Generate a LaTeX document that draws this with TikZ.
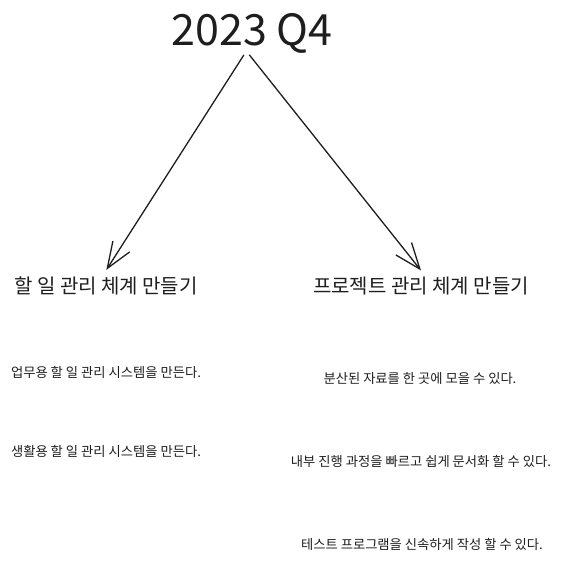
\documentclass[tikz,border=0pt]{standalone}
\usepackage{fontspec}
\setmainfont{Noto Sans CJK KR}
\usepackage{xcolor}
\usetikzlibrary{arrows.meta, positioning}

\definecolor{inkdark}{HTML}{1E1E1E}

\begin{document}
\begin{tikzpicture}[x=1pt, y=-1pt,
    yeartitle/.style={font=\fontsize{43}{50}\selectfont, text=inkdark, inner sep=0pt},
    goalhead/.style={font=\fontsize{20}{24}\selectfont, text=inkdark, inner sep=0pt},
    goalitem/.style={font=\fontsize{13.3}{16}\selectfont, text=inkdark, inner sep=0pt},
    goalarrow/.style={draw=inkdark, line width=1.3pt, -{Straight Barb[length=26pt, width=20pt, line width=1.3pt]}}]

\useasboundingbox (0,0) rectangle (569,570);

% Quarter title
\node[yeartitle] (year) at (252,33) {2023 Q4};

% Goal headings
\node[goalhead] (todo) at (106,286) {할 일 관리 체계 만들기};
\node[goalhead] (project) at (421,286) {프로젝트 관리 체계 만들기};

% Items under each goal
\node[goalitem] (todo1) at (106,372) {업무용 할 일 관리 시스템을 만든다.};
\node[goalitem] (todo2) at (106,451) {생활용 할 일 관리 시스템을 만든다.};
\node[goalitem] (proj1) at (420,379) {분산된 자료를 한 곳에 모을 수 있다.};
\node[goalitem] (proj2) at (421,461) {내부 진행 과정을 빠르고 쉽게 문서화 할 수 있다.};
\node[goalitem] (proj3) at (422,544) {테스트 프로그램을 신속하게 작성 할 수 있다.};

% Arrows from the title
\draw[goalarrow, shorten <=2pt, shorten >=8pt] ([xshift=-7pt]year.south) -- ([xshift=-4pt]todo.north);
\draw[goalarrow, shorten <=2pt, shorten >=8pt] ([xshift=-4pt]year.south) -- ([xshift=5pt]project.north);

\end{tikzpicture}
\end{document}
